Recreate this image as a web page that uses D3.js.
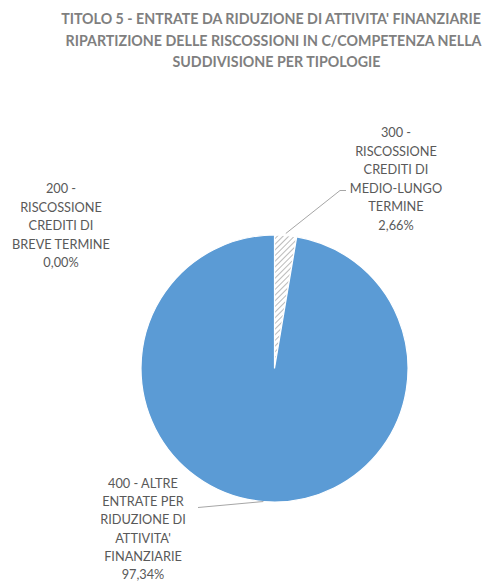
<!DOCTYPE html>
<html><head><meta charset="utf-8">
<script src="https://cdn.jsdelivr.net/npm/d3@7"></script>
<style>
html,body{margin:0;padding:0;background:#fff;}
svg{display:block;}
</style></head>
<body>
<svg id="chart" width="488" height="581"></svg>
<script>
// ---- data ----
const titleLines = [
  "TITOLO 5 - ENTRATE DA RIDUZIONE DI ATTIVITA' FINANZIARIE",
  "RIPARTIZIONE DELLE RISCOSSIONI IN C/COMPETENZA NELLA",
  "SUDDIVISIONE PER TIPOLOGIE"
];
const categories = [
  "200 - RISCOSSIONE CREDITI DI BREVE TERMINE",
  "300 - RISCOSSIONE CREDITI DI MEDIO-LUNGO TERMINE",
  "400 - ALTRE ENTRATE PER RIDUZIONE DI ATTIVITA' FINANZIARIE"
];
const values = [0.00, 2.66, 97.34];
const percentLabels = ["0,00%", "2,66%", "97,34%"];
const labelLines = [
  ["200 -", "RISCOSSIONE", "CREDITI DI", "BREVE TERMINE"],
  ["300 -", "RISCOSSIONE", "CREDITI DI", "MEDIO-LUNGO", "TERMINE"],
  ["400 - ALTRE", "ENTRATE PER", "RIDUZIONE DI", "ATTIVITA'", "FINANZIARIE"]
];

// ---- layout ----
const svg = d3.select("#chart");
const font = "Lato,'Open Sans',sans-serif";
const cx = 274.5, cy = 368.5, R = 133.5;

// fit a font size so that a sample string has a target width
function fitSize(sample, target, weight){
  const t = svg.append("text").attr("font-family",font).attr("font-weight",weight)
    .attr("font-size",20).text(sample);
  const w = t.node().getComputedTextLength();
  t.remove();
  return 20 * target / w;
}

// pattern for hatched slice
const defs = svg.append("defs");
const pat = defs.append("pattern").attr("id","hatch")
  .attr("patternUnits","userSpaceOnUse").attr("width",4).attr("height",4)
  .attr("patternTransform","rotate(45)");
pat.append("rect").attr("width",4).attr("height",4).attr("fill","#ffffff");
pat.append("line").attr("x1",0).attr("y1",0).attr("x2",0).attr("y2",4)
  .attr("stroke","#b3b3b3").attr("stroke-width",1.8);

const fills = ["#a5a5a5", "url(#hatch)", "#5b9bd5"];

// title
const titleSize = fitSize(titleLines[0], 420, "bold");
const titleX = [271, 273.5, 276.5];
const title = svg.append("g");
titleLines.forEach((t,i)=>{
  title.append("text").attr("x",titleX[i]).attr("y",24 + i*21.5)
    .attr("text-anchor","middle").attr("font-family",font)
    .attr("font-weight","bold").attr("font-size",titleSize).attr("fill","#7f7f7f").text(t);
});

// pie
const pie = d3.pie().sort(null).value(d=>d)(values);
const arc = d3.arc().innerRadius(0).outerRadius(R);
const g = svg.append("g").attr("transform",`translate(${cx},${cy})`);
g.selectAll("path").data(pie).join("path")
  .attr("d",arc)
  .attr("fill",(d,i)=>fills[i])
  .attr("stroke","#ffffff").attr("stroke-width",1.2);

// leader lines
const pt = (a, r) => [cx + r*Math.sin(a), cy - r*Math.cos(a)];
function mid(d){ return (d.startAngle + d.endAngle)/2; }
const p1 = pt(mid(pie[1]), R+2);
svg.append("polyline")
  .attr("points", [p1, [340,190.5], [346,190.5]].map(p=>p.join(",")).join(" "))
  .attr("fill","none").attr("stroke","#a6a6a6").attr("stroke-width",1);
const p2 = pt(mid(pie[2]), R);
svg.append("polyline")
  .attr("points", [p2, [198,507.5]].map(p=>p.join(",")).join(" "))
  .attr("fill","none").attr("stroke","#a6a6a6").attr("stroke-width",1);

// data labels
const labelSize = fitSize("BREVE TERMINE", 98, "normal");
const labelPos = [ {x:61, y:193, dy:18.6}, {x:396, y:137, dy:18.6}, {x:143, y:488, dy:18.2} ];
labelLines.forEach((lines,i)=>{
  const all = lines.concat([percentLabels[i]]);
  const t = svg.append("text").attr("text-anchor","middle")
    .attr("font-family",font).attr("font-size",labelSize).attr("fill","#595959");
  all.forEach((l,j)=>{
    t.append("tspan").attr("x",labelPos[i].x).attr("y",labelPos[i].y + j*labelPos[i].dy).text(l);
  });
});
</script>
</body></html>
